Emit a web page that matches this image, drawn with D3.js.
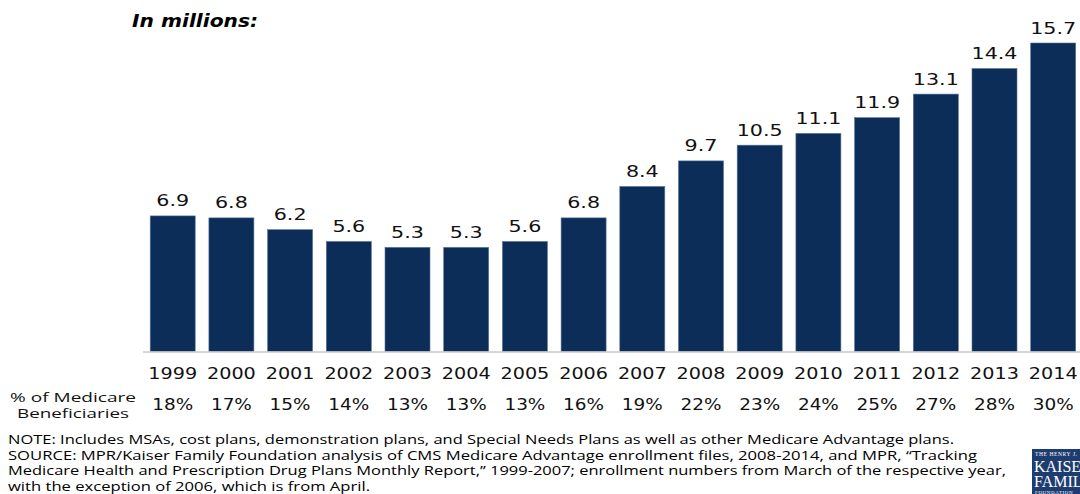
<!DOCTYPE html>
<html>
<head>
<meta charset="utf-8">
<script src="https://cdn.jsdelivr.net/npm/d3@7"></script>
<style>
  html, body { margin: 0; padding: 0; background: #ffffff; }
  svg { display: block; }
</style>
</head>
<body>
<svg id="chart" width="1080" height="494"></svg>
<script>
const years = ["1999","2000","2001","2002","2003","2004","2005","2006","2007","2008","2009","2010","2011","2012","2013","2014"];
const enrollment = [6.9, 6.8, 6.2, 5.6, 5.3, 5.3, 5.6, 6.8, 8.4, 9.7, 10.5, 11.1, 11.9, 13.1, 14.4, 15.7];
const shareOfBeneficiaries = ["18%","17%","15%","14%","13%","13%","13%","16%","19%","22%","23%","24%","25%","27%","28%","30%"];
const titleText = "In millions:";
const rowLabel = ["% of Medicare", "Beneficiaries"];
const notes = [
  "NOTE:  Includes MSAs, cost plans, demonstration plans, and Special Needs Plans as well as other Medicare Advantage plans.",
  "SOURCE:  MPR/Kaiser Family Foundation analysis of CMS Medicare Advantage enrollment files, 2008-2014, and MPR, \u201CTracking",
  "Medicare Health and Prescription Drug Plans Monthly Report,\u201D 1999-2007; enrollment numbers from March of the respective year,",
  "with the exception of 2006, which is from April."
];
const noteWidths = [946, 969, 998, 362];

const svg = d3.select("#chart");
const baseY = 351.5;

const x = d3.scaleBand()
  .domain(years)
  .range([143.35, 1082.55])
  .paddingInner(0.2334)
  .paddingOuter(0.1167);

const y = d3.scaleLinear()
  .domain([0, 15.7])
  .range([baseY, 43]);

const numFont = "'DejaVu Sans', Verdana, sans-serif";
const txtFont = "'Open Sans', 'DejaVu Sans', sans-serif";

// Title
svg.append("text")
  .attr("x", 132).attr("y", 27)
  .attr("font-family", numFont)
  .attr("font-size", 18)
  .attr("font-weight", "bold")
  .attr("font-style", "italic")
  .attr("fill", "#000")
  .attr("textLength", 126)
  .attr("lengthAdjust", "spacingAndGlyphs")
  .text(titleText);

// Bars
svg.append("g").selectAll("rect")
  .data(years)
  .join("rect")
  .attr("x", d => x(d))
  .attr("y", (d, i) => y(enrollment[i]))
  .attr("width", x.bandwidth())
  .attr("height", (d, i) => baseY - y(enrollment[i]))
  .attr("fill", "#0c2d57")
  .attr("stroke", "#5476a0")
  .attr("stroke-width", 0.6);

// Baseline
svg.append("line")
  .attr("x1", 143).attr("x2", 1080)
  .attr("y1", baseY + 0.5).attr("y2", baseY + 0.5)
  .attr("stroke", "#c8c8c8")
  .attr("stroke-width", 1.5);

// Value labels
svg.append("g").selectAll("text")
  .data(years)
  .join("text")
  .attr("transform", (d, i) => `translate(${x(d) + x.bandwidth() / 2},${y(enrollment[i]) - 9.5}) scale(1.29,1)`)
  .attr("text-anchor", "middle")
  .attr("font-family", numFont)
  .attr("font-size", 16)
  .attr("fill", "#111")
  .text((d, i) => enrollment[i].toFixed(1));

// Year labels
svg.append("g").selectAll("text")
  .data(years)
  .join("text")
  .attr("transform", d => `translate(${x(d) + x.bandwidth() / 2},379) scale(1.28,1)`)
  .attr("text-anchor", "middle")
  .attr("font-family", numFont)
  .attr("font-size", 15)
  .attr("fill", "#111")
  .text(d => d);

// Percent labels
svg.append("g").selectAll("text")
  .data(years)
  .join("text")
  .attr("transform", d => `translate(${x(d) + x.bandwidth() / 2},410)`)
  .attr("text-anchor", "middle")
  .attr("font-family", numFont)
  .attr("font-size", 15.5)
  .attr("fill", "#111")
  .attr("textLength", 41)
  .attr("lengthAdjust", "spacingAndGlyphs")
  .text((d, i) => shareOfBeneficiaries[i]);

// Row label
const rowW = [126, 112];
svg.append("g").selectAll("text")
  .data(rowLabel)
  .join("text")
  .attr("x", 73)
  .attr("y", (d, i) => 401.5 + i * 16)
  .attr("text-anchor", "middle")
  .attr("font-family", txtFont)
  .attr("font-size", 13.5)
  .attr("fill", "#111")
  .attr("textLength", (d, i) => rowW[i])
  .attr("lengthAdjust", "spacingAndGlyphs")
  .text(d => d);

// Notes
svg.append("g").selectAll("text")
  .data(notes)
  .join("text")
  .attr("x", 8)
  .attr("y", (d, i) => 444 + i * 15.5)
  .attr("font-family", txtFont)
  .attr("font-size", 12.5)
  .attr("fill", "#000")
  .attr("textLength", (d, i) => noteWidths[i])
  .attr("lengthAdjust", "spacingAndGlyphs")
  .text(d => d);

// Logo (clipped at right edge, as in the reference)
const logo = svg.append("g");
logo.append("rect")
  .attr("x", 1032).attr("y", 449)
  .attr("width", 50).attr("height", 46)
  .attr("fill", "#1d3d70");
const serif = "'Liberation Serif', 'DejaVu Serif', serif";
logo.append("text").attr("x", 1035).attr("y", 456)
  .attr("font-family", serif).attr("font-size", 5.5).attr("fill", "#fff")
  .attr("letter-spacing", 0.6).text("THE HENRY J.");
logo.append("text").attr("x", 1034).attr("y", 472)
  .attr("font-family", serif).attr("font-size", 16).attr("fill", "#fff")
  .text("KAISER");
logo.append("text").attr("x", 1034).attr("y", 487)
  .attr("font-family", serif).attr("font-size", 16).attr("fill", "#fff")
  .text("FAMILY");
logo.append("text").attr("x", 1035).attr("y", 494)
  .attr("font-family", serif).attr("font-size", 5).attr("fill", "#fff")
  .attr("letter-spacing", 0.6).text("FOUNDATION");
</script>
</body>
</html>
